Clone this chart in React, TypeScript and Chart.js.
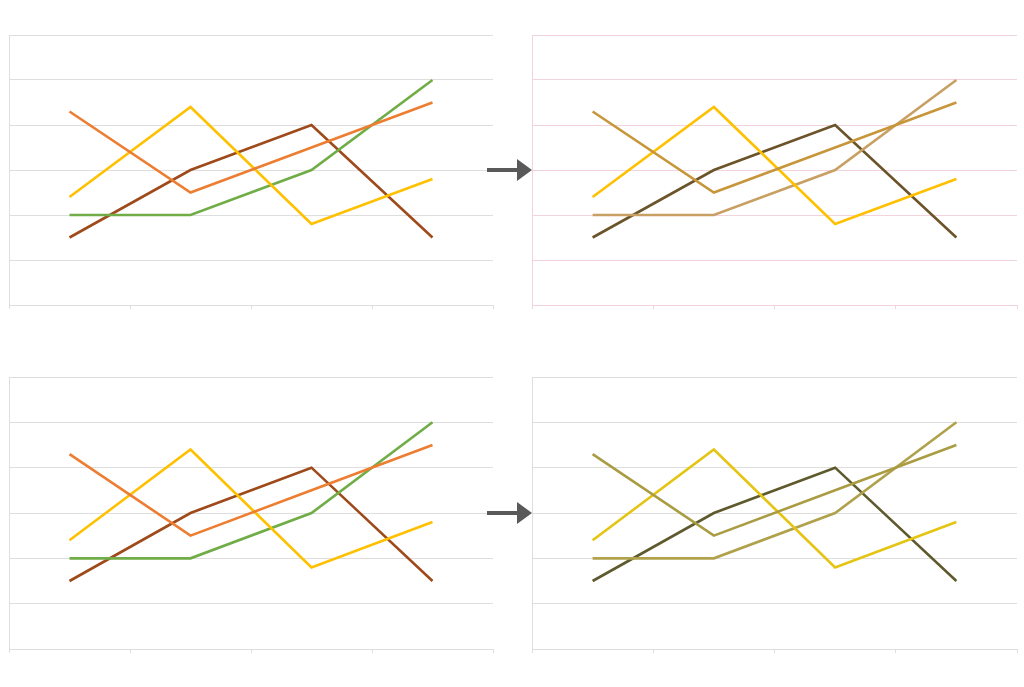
import React, { useEffect, useRef } from "react";
import { Chart, registerables } from "chart.js";

Chart.register(...registerables);

const categories = ["Category 1", "Category 2", "Category 3", "Category 4"];
const seriesA = [4.3, 2.5, 3.5, 4.5];
const seriesB = [2.4, 4.4, 1.8, 2.8];
const seriesC = [2, 2, 3, 5];
const seriesD = [1.5, 3, 4, 1.5];
const yTicks = [0, 1, 2, 3, 4, 5, 6];

const paletteOriginal = ["#ED7D31", "#FFC000", "#70AD47", "#9E4A1A"];
const paletteBrown = ["#C8963A", "#FFC000", "#C9A064", "#6B5429"];
const paletteOlive = ["#A99C42", "#E5C412", "#B0A24C", "#5F5A2D"];

const PAD = 4;
const TICK = 4;

type MiniProps = {
  left: number;
  top: number;
  w: number;
  h: number;
  colors: string[];
  gridColor: string;
};

function MiniChart({ left, top, w, h, colors, gridColor }: MiniProps) {
  const ref = useRef<HTMLCanvasElement | null>(null);
  const cw = w + PAD * 2;
  const ch = h + PAD * 2 + TICK;
  useEffect(() => {
    if (!ref.current) return;
    const series = [seriesA, seriesB, seriesC, seriesD];
    const chart = new Chart(ref.current, {
      type: "line",
      data: {
        labels: categories,
        datasets: series.map((d, i) => ({
          label: "Series " + (i + 1),
          data: d,
          borderColor: colors[i],
          backgroundColor: colors[i],
          borderWidth: 2.6,
          pointRadius: 0,
          tension: 0,
          fill: false,
        })),
      },
      options: {
        animation: false,
        responsive: false,
        maintainAspectRatio: false,
        layout: { padding: PAD, autoPadding: false },
        plugins: { legend: { display: false }, tooltip: { enabled: false } },
        scales: {
          x: {
            type: "category",
            offset: true,
            ticks: { display: false },
            grid: {
              offset: true,
              drawOnChartArea: false,
              drawTicks: true,
              tickLength: TICK,
              color: gridColor,
              lineWidth: 1,
            },
            border: { display: true, color: gridColor, width: 1 },
          },
          y: {
            min: yTicks[0],
            max: yTicks[yTicks.length - 1],
            afterBuildTicks: (axis: any) => {
              axis.ticks = yTicks.map((v) => ({ value: v }));
            },
            ticks: { display: false },
            grid: { drawTicks: false, color: gridColor, lineWidth: 1 },
            border: { display: true, color: gridColor, width: 1 },
          },
        },
      },
    });
    return () => chart.destroy();
  }, [colors, gridColor]);
  return (
    <canvas
      ref={ref}
      width={cw}
      height={ch}
      style={{
        position: "absolute",
        left: left - PAD,
        top: top - PAD,
        width: cw,
        height: ch,
      }}
    />
  );
}

function Arrow({ y }: { y: number }) {
  return (
    <svg
      width={60}
      height={30}
      style={{ position: "absolute", left: 480, top: y - 15 }}
    >
      <rect x={7} y={13} width={33} height={4} fill="#595959" />
      <polygon points="37,4 52,15 37,26" fill="#595959" />
    </svg>
  );
}

export default function App() {
  return (
    <div
      style={{
        position: "absolute",
        left: 0,
        top: 0,
        width: 1024,
        height: 687,
        background: "#ffffff",
        overflow: "hidden",
      }}
    >
      <MiniChart left={9} top={35} w={484} h={270} colors={paletteOriginal} gridColor="#DEDEDE" />
      <MiniChart left={532} top={35} w={485} h={270} colors={paletteBrown} gridColor="#F3D3DE" />
      <MiniChart left={9} top={377} w={484} h={272} colors={paletteOriginal} gridColor="#DEDEDE" />
      <MiniChart left={532} top={377} w={485} h={272} colors={paletteOlive} gridColor="#DEDEDE" />
      <Arrow y={170} />
      <Arrow y={513} />
    </div>
  );
}
